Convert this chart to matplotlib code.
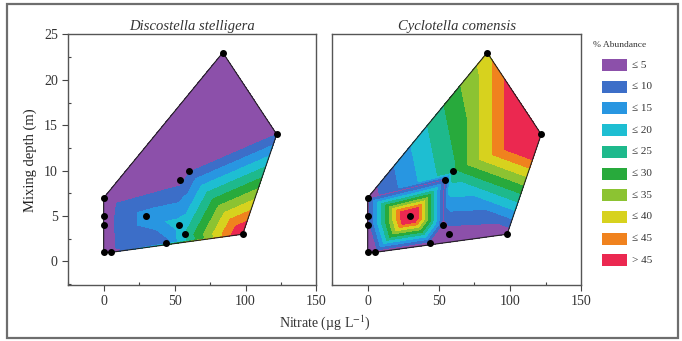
import numpy as np
import matplotlib.pyplot as plt
import matplotlib.tri as mtri
from matplotlib.patches import Rectangle
from matplotlib.ticker import MultipleLocator

plt.rcParams['font.family'] = ['Liberation Serif', 'DejaVu Serif']
plt.rcParams['mathtext.fontset'] = 'stix'

# sampling sites: nitrate (ug/L) vs mixing depth (m)
nitrate = [0, 0, 0, 0, 5, 30, 44, 53, 57, 54, 60, 84, 122, 98]
depth = [7, 5, 4, 1, 1, 5, 2, 4, 3, 9, 10, 23, 14, 3]

# relative abundance (%) at each site
disco = [2, 2.5, 2.5, 3, 4, 12, 8, 17, 20, 3, 4, 1, 5, 51]
cyclo = [2, 2, 2, 1, 1, 58, 2, 3, 2, 3, 24, 38, 60, 1]

species = ['Discostella stelligera', 'Cyclotella comensis']

levels = [-1, 5, 10, 15, 20, 25, 30, 35, 40, 45, 200]
class_labels = ['≤ 5', '≤ 10', '≤ 15', '≤ 20', '≤ 25', '≤ 30', '≤ 35', '≤ 40', '≤ 45', '> 45']
colors = ['#8C50AA', '#3C6EC8', '#2896E1', '#1EBED2', '#1EB98C',
          '#28AA3C', '#8CC332', '#D7D21E', '#F0821E', '#EB2850']


def hull(xs, ys):
    pts = sorted(set(zip(xs, ys)))
    def cross(o, a, b):
        return (a[0]-o[0])*(b[1]-o[1]) - (a[1]-o[1])*(b[0]-o[0])
    lower, upper = [], []
    for p in pts:
        while len(lower) >= 2 and cross(lower[-2], lower[-1], p) <= 0:
            lower.pop()
        lower.append(p)
    for p in reversed(pts):
        while len(upper) >= 2 and cross(upper[-2], upper[-1], p) <= 0:
            upper.pop()
        upper.append(p)
    h = lower[:-1] + upper[:-1]
    h.append(h[0])
    return np.array(h)


fig = plt.figure(figsize=(6.82, 3.41), dpi=100)

# outer frame
fig.patches.append(Rectangle((7/682, 3/341), 671/682, 334/341, transform=fig.transFigure,
                             fill=False, edgecolor='#6e6e6e', linewidth=1.6))

# triangulate on range-normalised coordinates, then map back
xa, ya = np.array(nitrate, float), np.array(depth, float)
xn = (xa - xa.min()) / np.ptp(xa)
yn = (ya - ya.min()) / np.ptp(ya)
tri = mtri.Triangulation(xa, ya, mtri.Triangulation(xn, yn).triangles)
h = hull(nitrate, depth)
axes = [fig.add_axes([0.100, 0.164, 0.364, 0.735]),
        fig.add_axes([0.487, 0.164, 0.365, 0.735])]

for ax, name, vals in zip(axes, species, [disco, cyclo]):
    ax.tricontourf(tri, vals, levels=levels, colors=colors)
    ax.plot(h[:, 0], h[:, 1], color='#222222', lw=0.8)
    ax.plot(nitrate, depth, 'o', color='black', ms=4)
    ax.set_xlim(-25, 150)
    ax.set_ylim(-2.6, 25)
    ax.set_title(name, style='italic', fontsize=10.5, color='#333333', pad=3)
    ax.xaxis.set_major_locator(MultipleLocator(50))
    ax.xaxis.set_minor_locator(MultipleLocator(25))
    ax.yaxis.set_major_locator(MultipleLocator(5))
    ax.yaxis.set_minor_locator(MultipleLocator(2.5))
    ax.tick_params(which='major', direction='out', length=4, width=0.8,
                   labelsize=10, colors='#444444', labelcolor='#333333')
    ax.tick_params(which='minor', direction='in', length=2.5, width=0.8, colors='#444444')
    for s in ax.spines.values():
        s.set_color('#555555')
        s.set_linewidth(1.0)

axes[0].set_ylabel('Mixing depth (m)', fontsize=10.5, color='#222222', labelpad=5)
axes[1].tick_params(axis='y', which='both', left=False, labelleft=False)

fig.text(0.476, 0.055, 'Nitrate (µg L$^{-1}$)', ha='center', va='center',
         fontsize=10, color='#333333')

# class legend
fig.text(0.869, 0.868, '% Abundance', fontsize=6.8, color='#333333', va='center')
for i, (lab, c) in enumerate(zip(class_labels, colors)):
    yc = 1 - (65 + i * 21.7) / 341
    fig.patches.append(Rectangle((602/682, yc - 6/341), 25/682, 12/341,
                                 transform=fig.transFigure, facecolor=c, edgecolor='none'))
    fig.text(632/682, yc, lab, fontsize=8, color='#333333', va='center')

fig.savefig('out.png', dpi=100)
